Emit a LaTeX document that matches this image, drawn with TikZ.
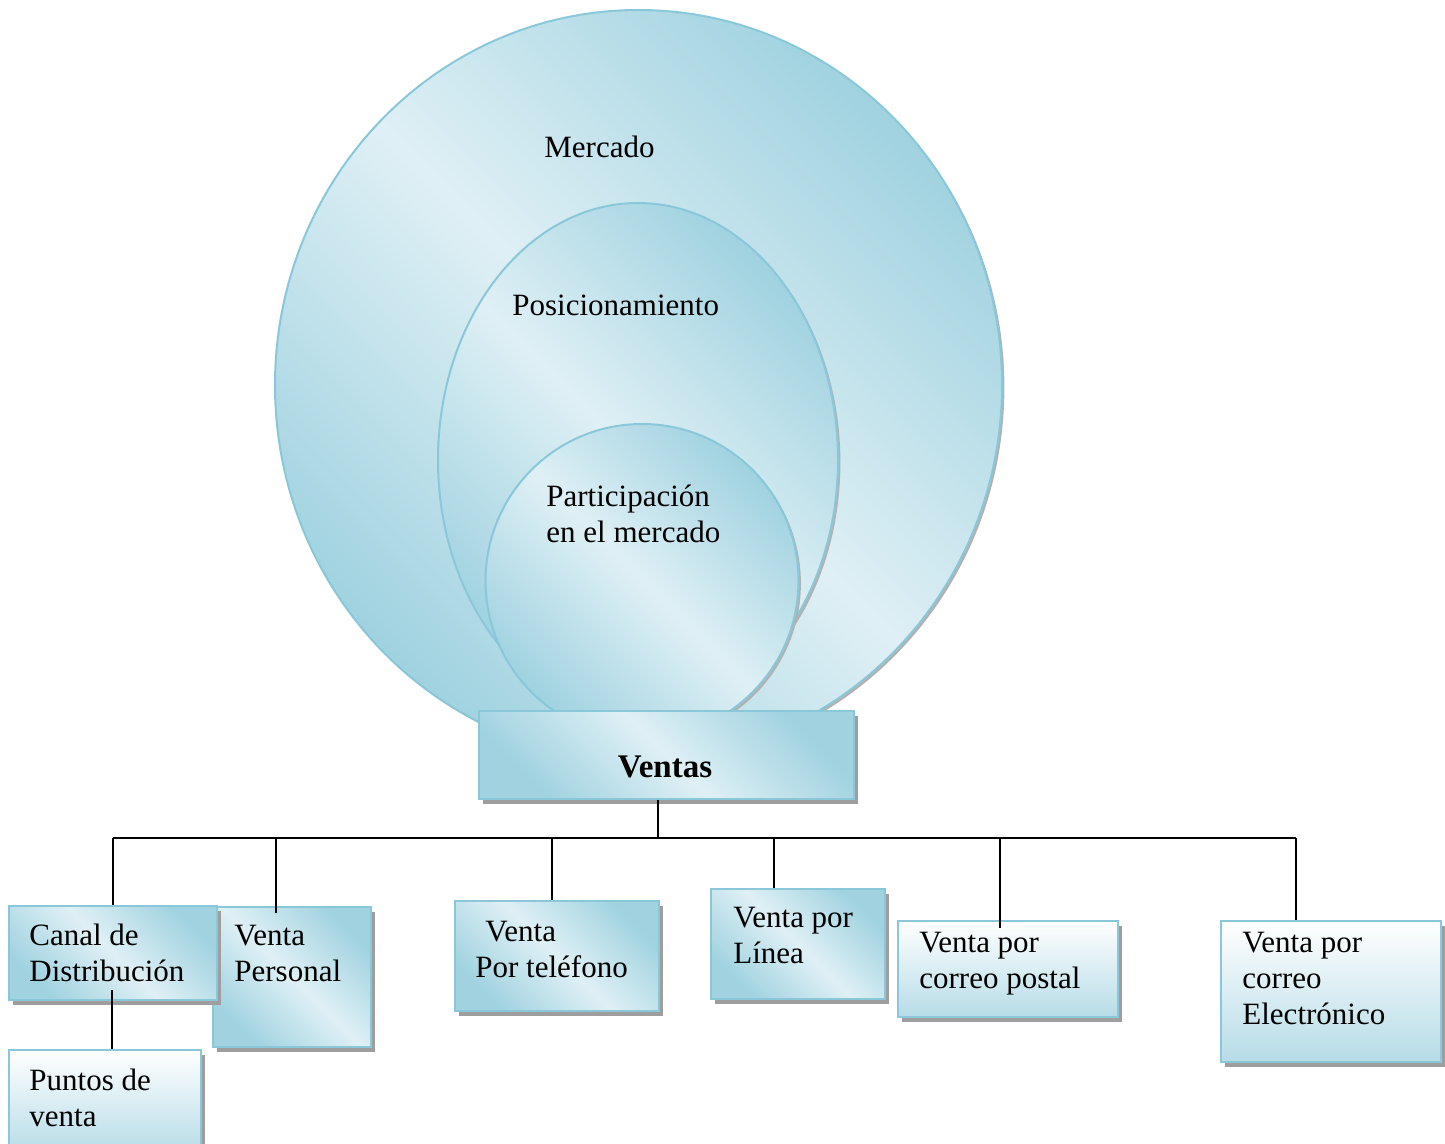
\documentclass[tikz,border=0pt]{standalone}
\usepackage{fontspec}
\setmainfont{Liberation Serif}
\usetikzlibrary{shadows,shapes.geometric,calc}
\definecolor{lb}{RGB}{223,240,245}
\definecolor{db}{RGB}{160,210,224}
\definecolor{bd}{RGB}{138,200,217}
\definecolor{wb}{RGB}{182,220,231}
\newcommand\lns[1]{\begin{tabular}[t]{@{}l@{}}#1\end{tabular}}
\begin{document}
\begin{tikzpicture}[x=0.5pt,y=-0.5pt,
  diag/.style={top color=db, bottom color=db, middle color=lb, shading angle=-45},
  vert/.style={top color=white, bottom color=wb},
  shd/.style={drop shadow={shadow xshift=2pt,shadow yshift=-2.5pt,fill=black!38,opacity=1}},
  circ/.style={draw=bd, line width=1pt, diag, drop shadow={shadow xshift=1.2pt,shadow yshift=-1.2pt,fill=black!30,opacity=1}},
  bx/.style={draw=bd, line width=1pt, rectangle, inner sep=0pt, anchor=north west, shd},
  txt/.style={font=\fontsize{15.5}{18}\selectfont, inner sep=0pt, anchor=base west},
  ln/.style={draw=black, line width=0.9pt}]
\useasboundingbox (0,0) rectangle (1445,1144);

% nested circles
\path[circ] (638.5,385) ellipse [x radius=363.5, y radius=375];
\path[circ] (638,460) ellipse [x radius=200, y radius=257];
\path[circ] (642,581) ellipse [x radius=156.5, y radius=157];
\node[txt] (tmercado) at (544,158) {Mercado};
\node[txt] (tposic) at (512,316) {Posicionamiento};
\node[txt] (tpart) at (546,506) {\lns{Participación\\en el mercado}};

% boxes
\node[bx, diag, minimum width=187.5pt, minimum height=44pt] (ventas) at (478,710) {};
\node[font=\bfseries\fontsize{16.5}{18}\selectfont, inner sep=0pt, anchor=base] (tventas) at (665,777) {Ventas};

\node[bx, diag, minimum width=79pt, minimum height=70pt] (personal) at (212,906) {};
\node[bx, diag, minimum width=104pt, minimum height=47pt] (canal) at (8,905) {};
\node[bx, vert, minimum width=96pt, minimum height=52pt] (puntos) at (8,1049) {};
\node[bx, diag, minimum width=102pt, minimum height=55pt] (telefono) at (454,900) {};
\node[bx, diag, minimum width=87pt, minimum height=55pt] (linea) at (710,888) {};
\node[bx, vert, minimum width=110pt, minimum height=48pt] (postal) at (897,920) {};
\node[bx, vert, minimum width=110pt, minimum height=70.5pt] (electronico) at (1220,920) {};

\node[txt] (tcanal) at (29,945) {\lns{Canal de\\Distribución}};
\node[txt] (tpersonal) at (234,945) {\lns{Venta\\Personal}};
\node[txt] (tpuntos) at (29,1090) {\lns{Puntos de\\venta}};
\node[txt] (ttelefono) at (475,941) {\lns{\hspace*{5pt}Venta\\Por teléfono}};
\node[txt] (tlinea) at (733,927) {\lns{Venta por\\Línea}};
\node[txt] (tpostal) at (919,952) {\lns{Venta por\\correo postal}};
\node[txt] (telec) at (1242,952) {\lns{Venta por\\correo\\Electrónico}};

% connectors
\coordinate (hub) at ($(ventas.south west)+(180,38)$);
\coordinate (eCanal) at (canal.north);
\coordinate (ePers) at ($(personal.north west)+(64,7)$);
\coordinate (eTel) at ($(telefono.north west)+(98,0)$);
\coordinate (eLin) at ($(linea.north west)+(64,0)$);
\coordinate (ePos) at ($(postal.north west)+(103,8)$);
\coordinate (eEle) at ($(electronico.north west)+(76,0)$);
\draw[ln] (hub |- ventas.south) -- (hub);
\draw[ln] (hub -| eCanal) -- (hub -| eEle);
\draw[ln] (hub -| eCanal) -- (eCanal);
\draw[ln] (hub -| ePers) -- (ePers);
\draw[ln] (hub -| eTel) -- (eTel);
\draw[ln] (hub -| eLin) -- (eLin);
\draw[ln] (hub -| ePos) -- (ePos);
\draw[ln] (hub -| eEle) -- (eEle);
\coordinate (eCanIn) at ($(canal.north west)+(104,85)$);
\draw[ln] (eCanIn) -- (eCanIn |- puntos.north);
\end{tikzpicture}
\end{document}
